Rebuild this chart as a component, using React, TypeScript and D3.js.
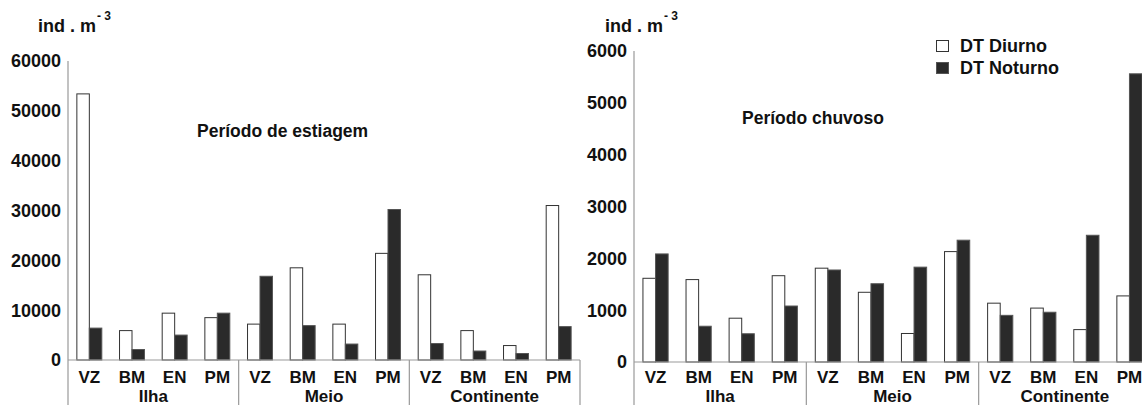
import React from 'react';
import * as d3 from 'd3';

const categories = ['VZ', 'BM', 'EN', 'PM', 'VZ', 'BM', 'EN', 'PM', 'VZ', 'BM', 'EN', 'PM'];
const groups = ['Ilha', 'Meio', 'Continente'];
const series = ['DT Diurno', 'DT Noturno'];

const dryDiurno = [53400, 5900, 9400, 8500, 7200, 18500, 7200, 21400, 17100, 5900, 2900, 31000];
const dryNoturno = [6400, 2100, 5000, 9400, 16800, 6900, 3200, 30200, 3300, 1800, 1300, 6700];
const rainDiurno = [1615, 1590, 845, 1665, 1810, 1345, 550, 2130, 1135, 1040, 625, 1275];
const rainNoturno = [2085, 690, 545, 1080, 1775, 1510, 1830, 2350, 900, 960, 2445, 5560];

const dryTicks = [0, 10000, 20000, 30000, 40000, 50000, 60000];
const rainTicks = [0, 1000, 2000, 3000, 4000, 5000, 6000];

const FONT = '"Liberation Sans", Arial, sans-serif';
const AXIS = '#999';
const DARK = '#2a2a2a';
const TXT = '#111';

type PanelProps = {
  x0: number; x1: number; yTop: number; yBase: number; max: number;
  ticks: number[]; diurno: number[]; noturno: number[];
  title: string; titleX: number; titleY: number; unitX: number;
};

function Panel(p: PanelProps) {
  const idx = categories.map((_, i) => String(i));
  const x = d3.scaleBand<string>().domain(idx).range([p.x0, p.x1]).padding(0);
  const bw = x.bandwidth();
  const inner = d3.scaleBand<string>().domain(series).range([0, bw]).paddingInner(0).paddingOuter(0.71);
  const y = d3.scaleLinear().domain([0, p.max]).range([p.yBase, p.yTop]);
  const groupW = bw * 4;
  return (
    <g>
      <text x={p.unitX} y={32} fontSize={18} fontWeight="bold" fill={TXT} fontFamily={FONT}>ind . m</text>
      <text x={p.unitX + 59} y={20} fontSize={12} fontWeight="bold" fill={TXT} fontFamily={FONT}>- 3</text>
      {p.ticks.map(t => (
        <text key={t} x={p.x0 - 7} y={y(t)} dy="0.36em" textAnchor="end" fontSize={18}
          fontWeight="bold" fill={TXT} fontFamily={FONT}>{t}</text>
      ))}
      <text x={p.titleX} y={p.titleY} fontSize={17.5} fontWeight="bold" fill={TXT} fontFamily={FONT}>{p.title}</text>
      {idx.map((k, i) => {
        const vals = [p.diurno[i], p.noturno[i]];
        return (
          <g key={k}>
            {series.map((s, j) => (
              <rect key={s} x={(x(k) as number) + (inner(s) as number)} y={y(vals[j])}
                width={inner.bandwidth()} height={p.yBase - y(vals[j])}
                fill={j === 0 ? '#fff' : DARK} stroke={j === 0 ? '#333' : '#555'} strokeWidth={1} />
            ))}
            <text x={(x(k) as number) + bw / 2} y={383} textAnchor="middle" fontSize={17}
              fontWeight="bold" fill={TXT} fontFamily={FONT}>{categories[i]}</text>
          </g>
        );
      })}
      {groups.map((g, gi) => (
        <text key={g} x={p.x0 + groupW * gi + groupW / 2} y={402} textAnchor="middle" fontSize={17}
          fontWeight="bold" fill={TXT} fontFamily={FONT}>{g}</text>
      ))}
      <line x1={p.x0} x2={p.x0} y1={p.yTop} y2={405} stroke={AXIS} strokeWidth={1.2} />
      <line x1={p.x0} x2={p.x1} y1={p.yBase} y2={p.yBase} stroke={AXIS} strokeWidth={1.2} />
      {[1, 2, 3].map(gi => (
        <line key={gi} x1={p.x0 + groupW * gi} x2={p.x0 + groupW * gi} y1={p.yBase} y2={405}
          stroke={AXIS} strokeWidth={1.2} />
      ))}
    </g>
  );
}

export default function App() {
  return (
    <svg width={1142} height={405} style={{ position: 'absolute', left: 0, top: 0, background: '#fff' }}>
      <rect width={1142} height={405} fill="#fff" />
      <Panel x0={68} x1={580} yTop={61} yBase={360} max={60000} ticks={dryTicks}
        diurno={dryDiurno} noturno={dryNoturno} title="Período de estiagem" titleX={197} titleY={137} unitX={38} />
      <Panel x0={634} x1={1151} yTop={51} yBase={362} max={6000} ticks={rainTicks}
        diurno={rainDiurno} noturno={rainNoturno} title="Período chuvoso" titleX={742} titleY={124} unitX={605} />
      <g fontFamily={FONT} fontWeight="bold" fontSize={18} fill={TXT}>
        <rect x={936.5} y={40.5} width={12} height={11} fill="#fff" stroke="#333" strokeWidth={1} />
        <text x={960} y={52}>{series[0]}</text>
        <rect x={936.5} y={62.5} width={12} height={11} fill={DARK} stroke="#555" strokeWidth={1} />
        <text x={960} y={74}>{series[1]}</text>
      </g>
    </svg>
  );
}
